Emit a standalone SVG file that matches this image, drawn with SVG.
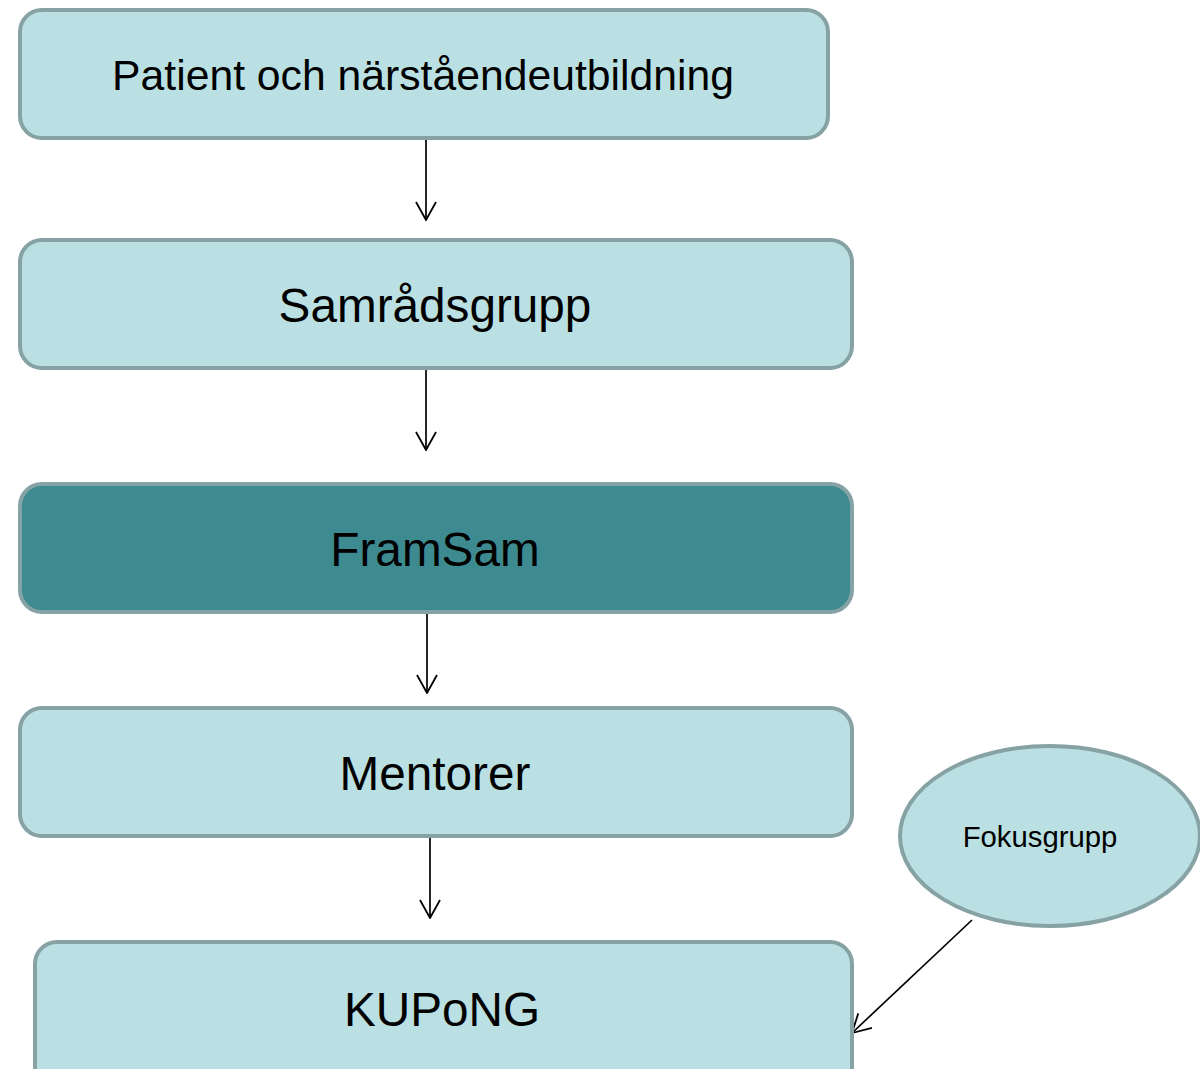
<svg xmlns="http://www.w3.org/2000/svg" width="1200" height="1069" viewBox="0 0 1200 1069">
<style>
.box{fill:#bae0e3;stroke:#87a2a4;stroke-width:4}
.dark{fill:#3d8b90}
.t{font-family:"Liberation Sans",Arial,sans-serif;fill:#000;text-anchor:middle}
.c{stroke:#000;stroke-width:1.7;fill:none}
</style>
<defs>
<marker id="ah" markerUnits="userSpaceOnUse" viewBox="0 0 20 22" refX="19" refY="11" markerWidth="20" markerHeight="22" orient="auto">
<path d="M1,1 L19,11 L1,21" fill="none" stroke="#000" stroke-width="1.8"/>
</marker>
</defs>
<rect width="1200" height="1069" fill="#fff"/>
<g id="connectors">
<line class="c" x1="426" y1="138" x2="426" y2="220" marker-end="url(#ah)"/>
<line class="c" x1="426" y1="368" x2="426" y2="450" marker-end="url(#ah)"/>
<line class="c" x1="427" y1="612" x2="427" y2="693" marker-end="url(#ah)"/>
<line class="c" x1="430" y1="836" x2="430" y2="918" marker-end="url(#ah)"/>
<line class="c" x1="972" y1="920" x2="852" y2="1033" marker-end="url(#ah)"/>
</g>
<g id="n1"><rect class="box" x="20" y="10" width="808" height="128" rx="22"/><text class="t" x="423" y="90" font-size="42.7">Patient och närståendeutbildning</text></g>
<g id="n2"><rect class="box" x="20" y="240" width="832" height="128" rx="22"/><text class="t" x="435" y="322" font-size="47.7">Samrådsgrupp</text></g>
<g id="n3"><rect class="box dark" x="20" y="484" width="832" height="128" rx="22"/><text class="t" x="435" y="566" font-size="47.7">FramSam</text></g>
<g id="n4"><rect class="box" x="20" y="708" width="832" height="128" rx="22"/><text class="t" x="435" y="790" font-size="47.7">Mentorer</text></g>
<g id="n5"><rect class="box" x="35" y="942" width="817" height="150" rx="22"/><text class="t" x="442" y="1026" font-size="47.7">KUPoNG</text></g>
<g id="n6"><ellipse class="box" cx="1050" cy="836" rx="150" ry="90"/><text class="t" x="1040" y="847" font-size="29.3">Fokusgrupp</text></g>
</svg>
